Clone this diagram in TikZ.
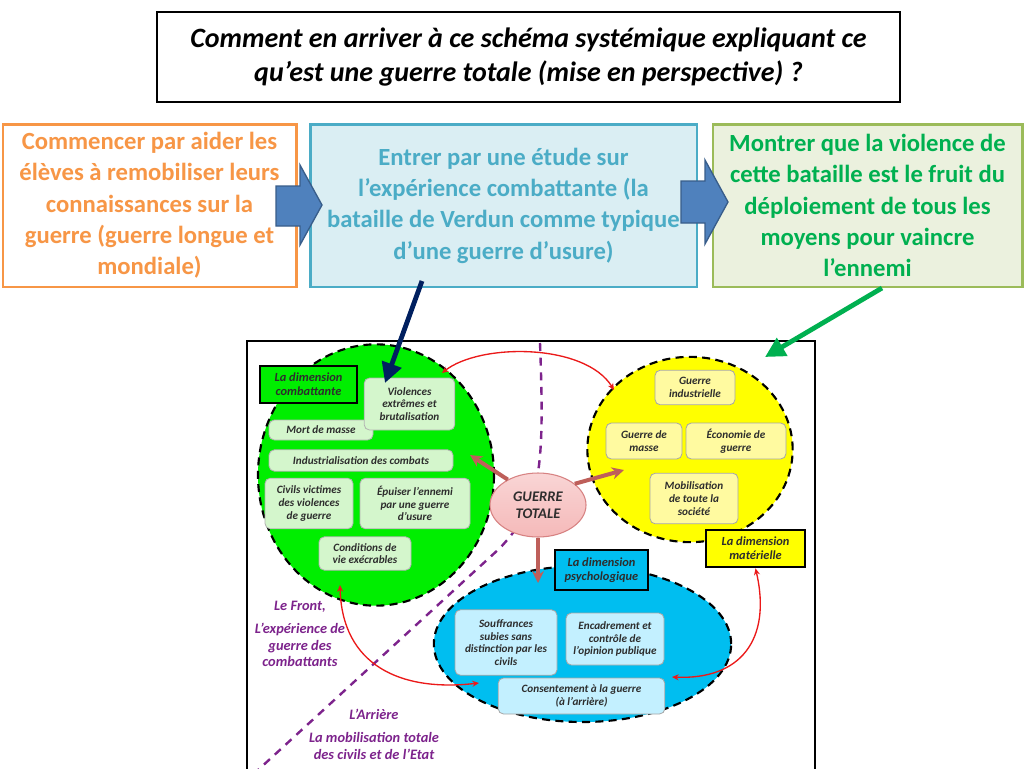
\documentclass[tikz,border=0pt]{standalone}
\usepackage{fontspec}
\setmainfont{Carlito}
\usetikzlibrary{shapes.geometric,arrows.meta}
\definecolor{orangeline}{RGB}{247,150,70}
\definecolor{blueline}{RGB}{75,172,198}
\definecolor{bluefill}{RGB}{218,238,243}
\definecolor{greenline}{RGB}{155,187,89}
\definecolor{greenfill}{RGB}{235,241,222}
\definecolor{greentext}{RGB}{0,176,80}
\definecolor{blockfill}{RGB}{79,129,189}
\definecolor{blockline}{RGB}{56,93,138}
\definecolor{navy}{RGB}{0,32,96}
\definecolor{combatzone}{RGB}{0,238,0}
\definecolor{combatitem}{RGB}{212,246,204}
\definecolor{matzone}{RGB}{255,255,0}
\definecolor{matitem}{RGB}{255,250,160}
\definecolor{psyzone}{RGB}{0,190,240}
\definecolor{psyitem}{RGB}{195,240,255}
\definecolor{pinkfill}{RGB}{245,185,185}
\definecolor{pinkline}{RGB}{215,130,130}
\definecolor{linkbrown}{RGB}{190,95,90}
\definecolor{linkred}{RGB}{235,25,25}
\definecolor{zonepurple}{RGB}{125,35,140}
\definecolor{darktext}{RGB}{45,45,45}

\begin{document}
\begin{tikzpicture}[x=0.75pt, y=-0.75pt, >=Stealth,
  topbox/.style={draw, line width=2pt, align=center,
    font=\fontsize{18.5}{23.5}\selectfont\bfseries},
  dimzone/.style={ellipse, draw=black, line width=1.6pt,
    dash pattern=on 6pt off 4pt},
  itembox/.style={draw=#1, rounded corners=4pt, line width=0.6pt,
    align=center, inner sep=1pt, text=darktext,
    font=\fontsize{8.4}{9.6}\selectfont\bfseries\itshape},
  dimlabel/.style={draw=black, line width=1.8pt, align=center, inner sep=1pt,
    text=darktext, font=\fontsize{9.3}{10.5}\selectfont\bfseries\itshape},
  sidelabel/.style={align=center, text=zonepurple,
    font=\fontsize{10.8}{12.5}\selectfont\bfseries\itshape},
  brownlink/.style={->, linkbrown, line width=3pt,
    arrows={-Stealth[length=9pt,width=9pt]}},
  redlink/.style={linkred, line width=1pt,
    arrows={Stealth[length=5pt,width=4.5pt]-Stealth[length=5pt,width=4.5pt]}},
  bigarrow/.style={line width=3.6pt,
    arrows={-Triangle[length=15pt,width=15pt]}}]

\useasboundingbox (0,0) rectangle (1024,768);
\clip (0,0) rectangle (1024,768);
\fill[white] (0,0) rectangle (1024,768);

% question
\node[draw, line width=1.5pt, minimum width=557pt, minimum height=67pt,
  align=center, font=\fontsize{21}{25}\selectfont\bfseries\itshape]
  (question) at (528.5,57)
  {Comment en arriver à ce schéma systémique expliquant ce\\
   qu’est une guerre totale (mise en perspective) ?};

% steps
\node[topbox, draw=orangeline, text=orangeline, minimum width=220pt,
  minimum height=122pt] (start) at (149.5,205.5)
  {Commencer par aider les\\élèves à remobiliser leurs\\connaissances sur la\\
   guerre (guerre longue et\\mondiale)};
\node[topbox, draw=blueline, fill=bluefill, text=blueline, minimum width=290pt,
  minimum height=122pt] (verdun) at (503.5,205.5)
  {Entrer par une étude sur\\l’expérience combattante (la\\
   bataille de Verdun comme typique\\d’une guerre d’usure)};
\node[topbox, draw=greenline, fill=greenfill, text=greentext,
  minimum width=232pt, minimum height=122pt] (violence) at (867.5,205.5)
  {Montrer que la violence de\\cette bataille est le fruit du\\
   déploiement de tous les\\moyens pour vaincre\\l’ennemi};

\filldraw[fill=blockfill, draw=blockline, line width=1pt]
  (276,186) -- (300,186) -- (300,165) -- (322,205) -- (300,245)
  -- (300,226) -- (276,226) -- cycle;
\filldraw[fill=blockfill, draw=blockline, line width=1pt]
  (681,181) -- (705,181) -- (705,160) -- (728,202) -- (705,244)
  -- (705,223) -- (681,223) -- cycle;

% schema
\draw[line width=2.2pt] (247,341) rectangle (815,790);
\draw[zonepurple, line width=1.8pt, dash pattern=on 6pt off 5pt]
  (540,343) .. controls (545,475) and (540,505) .. (500,548) -- (258,770);

\node[dimzone, fill=combatzone, minimum width=177pt, minimum height=196pt]
  (combat) at (376,475) {};
\node[dimzone, fill=matzone, minimum width=154pt, minimum height=139pt]
  (materiel) at (690,449.5) {};
\node[dimzone, fill=psyzone, minimum width=223pt, minimum height=117pt]
  (psycho) at (582.5,644) {};

% dimension combattante
\node[dimlabel, fill=combatzone, minimum width=73pt, minimum height=28pt]
  (dimcombat) at (308.5,384.5) {La dimension\\combattante};
\node[itembox=gray!60, fill=combatitem, minimum width=78pt, minimum height=15pt]
  (mort) at (321,430) {Mort de masse};
\node[itembox=gray!60, fill=combatitem, minimum width=68pt, minimum height=39pt]
  (brutal) at (409.5,404) {Violences\\extrêmes et\\brutalisation};
\node[itembox=gray!60, fill=combatitem, minimum width=138pt, minimum height=16pt]
  (indus) at (361,460.5) {Industrialisation des combats};
\node[itembox=gray!60, fill=combatitem, minimum width=66pt, minimum height=38pt]
  (civils) at (309,503.5) {Civils victimes\\des violences\\de guerre};
\node[itembox=gray!60, fill=combatitem, minimum width=82.5pt, minimum height=38pt]
  (usure) at (415,503.5) {Épuiser l’ennemi\\par une guerre\\d’usure};
\node[itembox=gray!60, fill=combatitem, minimum width=69pt, minimum height=25pt]
  (conditions) at (365,553.5) {Conditions de\\vie exécrables};

% dimension materielle
\node[itembox=gray!70, fill=matitem, minimum width=60pt, minimum height=26pt]
  (gindus) at (695,387.5) {Guerre\\industrielle};
\node[itembox=gray!70, fill=matitem, minimum width=57pt, minimum height=27pt]
  (gmasse) at (644,441) {Guerre de\\masse};
\node[itembox=gray!70, fill=matitem, minimum width=75pt, minimum height=27pt]
  (economie) at (736,441) {Économie de\\guerre};
\node[itembox=gray!70, fill=matitem, minimum width=66pt, minimum height=38pt]
  (mobil) at (694,498.5) {Mobilisation\\de toute la\\société};
\node[dimlabel, fill=matzone, minimum width=74pt, minimum height=28pt]
  (dimmat) at (755.5,548.5) {La dimension\\matérielle};

% dimension psychologique
\node[dimlabel, fill=psyzone, minimum width=70pt, minimum height=30pt]
  (dimpsy) at (601.5,570) {La dimension\\psychologique};
\node[itembox=gray!70, fill=psyitem, minimum width=76.5pt, minimum height=49pt]
  (souffrances) at (506,642.5)
  {Souffrances\\subies sans\\distinction par les\\civils};
\node[itembox=gray!70, fill=psyitem, minimum width=73.5pt, minimum height=39pt]
  (encadrement) at (615,639) {Encadrement et\\contrôle de\\l’opinion publique};
\node[itembox=gray!70, fill=psyitem, minimum width=125pt, minimum height=27pt]
  (consent) at (581.5,696) {Consentement à la guerre\\(à l’arrière)};

% front / arriere
\node[sidelabel] (front) at (300,634)
  {Le Front,\\[5pt]L’expérience de\\guerre des\\combattants};
\node[sidelabel] (arriere) at (374,734)
  {L’Arrière\\[5pt]La mobilisation totale\\des civils et de l’Etat};

% liens
\coordinate (cbtop) at (442,373);
\coordinate (mattop) at (614,390);
\coordinate (cbbot) at (340,585);
\coordinate (psyleft) at (479,683);
\coordinate (psyright) at (672,677);
\draw[redlink] (cbtop) .. controls (480,343) and (585,343) .. (mattop);
\draw[redlink] (cbbot) .. controls (342,665) and (400,692) .. (psyleft);
\draw[redlink] (dimmat.south) .. controls (772,640) and (740,680) .. (psyright);

\coordinate (tocombat) at (470,455);
\coordinate (tomat) at (624,470);
\coordinate (topsy) at (538,583);
\node[ellipse, draw=pinkline, line width=0.8pt, top color=pinkfill!60,
  bottom color=pinkfill, minimum width=72pt, minimum height=48pt, inner sep=0pt,
  align=center, text=darktext, font=\fontsize{11}{13}\selectfont\bfseries\itshape]
  (totale) at (538,505) {GUERRE\\TOTALE};
\draw[brownlink] (totale.140) -- (tocombat);
\draw[brownlink] (totale.30) -- (tomat);
\draw[brownlink] (totale.south) -- (topsy);

% fleches vers le schema
\coordinate (verdunfoot) at (422,281);
\coordinate (brutaltip) at (385,383);
\coordinate (violencefoot) at (882,288);
\coordinate (mattip) at (765,357);
\draw[bigarrow, navy] (verdunfoot) -- (brutaltip);
\draw[bigarrow, greentext] (violencefoot) -- (mattip);

\end{tikzpicture}
\end{document}
